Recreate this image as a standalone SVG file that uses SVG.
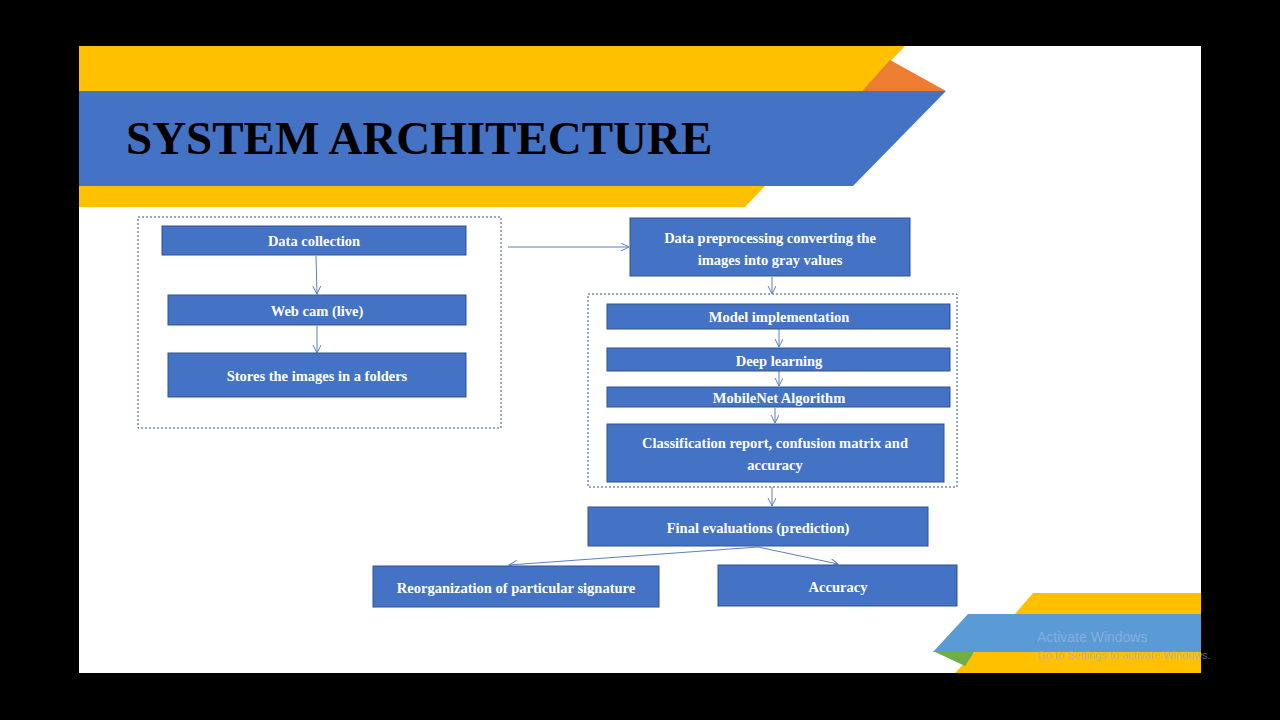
<svg xmlns="http://www.w3.org/2000/svg" width="1280" height="720" viewBox="0 0 1280 720">
<defs>
<style>
.b{fill:#4472c4;stroke:#2f528f;stroke-width:1}
.t{font-family:"Liberation Serif",serif;font-weight:bold;font-size:14.5px;fill:#fff;text-anchor:middle}
.d{fill:none;stroke:#2f528f;stroke-width:1;stroke-dasharray:2,2}
.c{stroke:#5b7fc0;stroke-width:1;fill:none;marker-end:url(#a)}
</style>
<marker id="a" markerWidth="10" markerHeight="10" refX="8" refY="4" orient="auto" markerUnits="userSpaceOnUse"><path d="M0,0 L8,4 L0,8" fill="none" stroke="#5b7fc0" stroke-width="1"/></marker>
</defs>
<rect width="1280" height="720" fill="#000"/>
<rect x="79" y="46" width="1122" height="627" fill="#fff"/>
<polygon points="79,46 905,46 862,91 79,91" fill="#ffc000"/>
<polygon points="890,60 946,91 862,91" fill="#ed7d31"/>
<polygon points="79,186 765,186 745,207 79,207" fill="#ffc000"/>
<polygon points="79,91 946,91 853,186 79,186" fill="#4472c4"/>
<text x="126" y="154" font-family="Liberation Serif,serif" font-weight="bold" font-size="47" fill="#000">SYSTEM ARCHITECTURE</text>
<polygon points="1033,593 1201,593 1201,614 1015,614" fill="#ffc000"/>
<polygon points="975,652 1201,652 1201,673 955,673" fill="#ffc000"/>
<polygon points="933,651 975,651 965,666" fill="#70ad47"/>
<polygon points="968,614 1201,614 1201,652 933,652" fill="#5b9bd5"/>
<text x="1037" y="642" font-family="Liberation Sans,sans-serif" font-size="14" fill="#8fb3df" opacity="0.8">Activate Windows</text>
<text x="1037" y="659" font-family="Liberation Sans,sans-serif" font-size="11" fill="#8fb3df" opacity="0.6">Go to Settings to activate Windows.</text>
<rect class="d" x="138" y="217" width="363" height="211"/>
<rect class="d" x="588" y="294" width="369" height="193"/>
<g id="connectors">
<line class="c" x1="316" y1="256" x2="317" y2="294"/>
<line class="c" x1="317" y1="326" x2="317" y2="353"/>
<line class="c" x1="508" y1="247" x2="629" y2="247"/>
<line class="c" x1="772" y1="277" x2="772" y2="294"/>
<line class="c" x1="779" y1="329" x2="779" y2="347"/>
<line class="c" x1="779" y1="371" x2="779" y2="386"/>
<line class="c" x1="775" y1="408" x2="775" y2="423"/>
<line class="c" x1="772" y1="487" x2="772" y2="506"/>
<line class="c" x1="758" y1="547" x2="509" y2="565"/>
<line class="c" x1="758" y1="547" x2="838" y2="564"/>
</g>
<g id="n1"><rect class="b" x="162" y="226" width="304" height="29"/><text class="t" x="314" y="246">Data collection</text></g>
<g id="n2"><rect class="b" x="168" y="295" width="298" height="30"/><text class="t" x="317" y="316">Web cam (live)</text></g>
<g id="n3"><rect class="b" x="168" y="353" width="298" height="44"/><text class="t" x="317" y="381">Stores the images in a folders</text></g>
<g id="n4"><rect class="b" x="630" y="218" width="280" height="58"/><text class="t" x="770" y="243">Data preprocessing converting the</text><text class="t" x="770" y="265">images into gray values</text></g>
<g id="n5"><rect class="b" x="607" y="304" width="343" height="25"/><text class="t" x="779" y="322">Model implementation</text></g>
<g id="n6"><rect class="b" x="607" y="348" width="343" height="23"/><text class="t" x="779" y="366">Deep learning</text></g>
<g id="n7"><rect class="b" x="607" y="387" width="343" height="20"/><text class="t" x="779" y="403">MobileNet Algorithm</text></g>
<g id="n8"><rect class="b" x="607" y="424" width="337" height="58"/><text class="t" x="775" y="448">Classification report, confusion matrix and</text><text class="t" x="775" y="470">accuracy</text></g>
<g id="n9"><rect class="b" x="588" y="507" width="340" height="39"/><text class="t" x="758" y="533">Final evaluations (prediction)</text></g>
<g id="n10"><rect class="b" x="373" y="566" width="286" height="41"/><text class="t" x="516" y="593">Reorganization of particular signature</text></g>
<g id="n11"><rect class="b" x="718" y="565" width="239" height="41"/><text class="t" x="838" y="592">Accuracy</text></g>
</svg>
